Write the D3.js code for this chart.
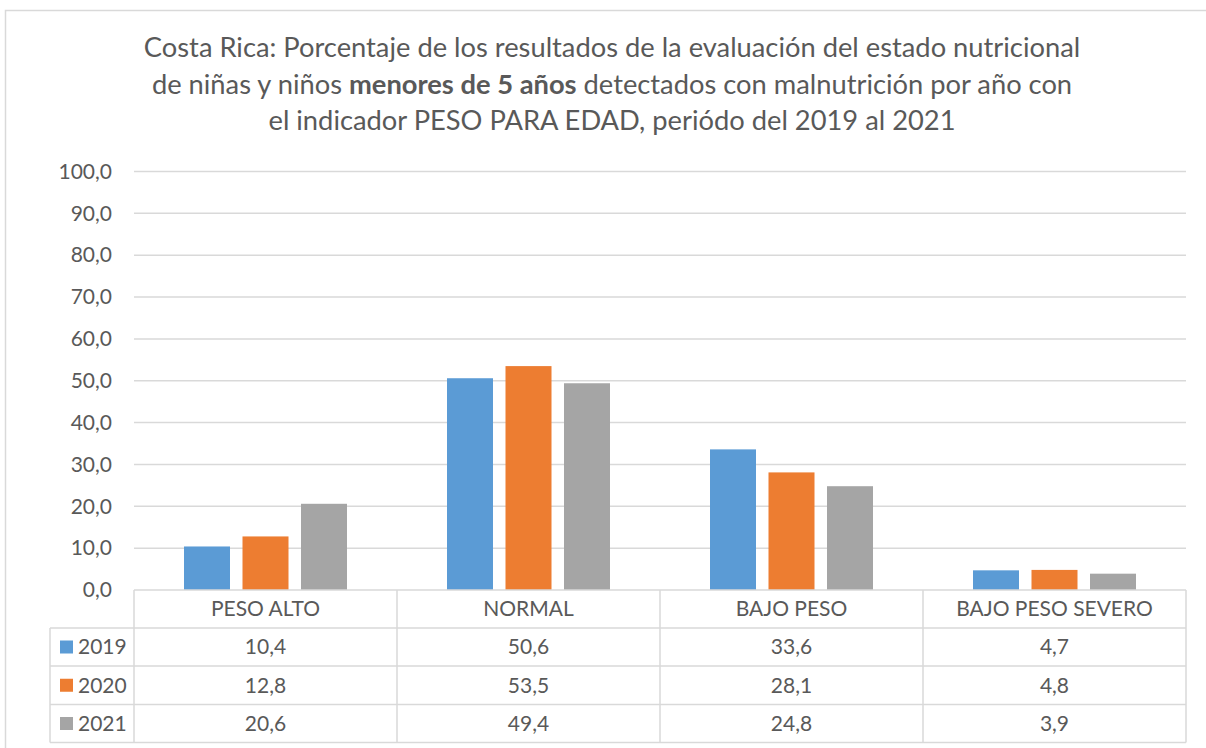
<!DOCTYPE html>
<html>
<head>
<meta charset="utf-8">
<script src="https://cdn.jsdelivr.net/npm/d3@7"></script>
<style>
  html, body { margin: 0; padding: 0; background: #fff; }
  svg { display: block; font-family: Lato, "Open Sans", sans-serif; }
</style>
</head>
<body>
<svg id="chart" width="1206" height="748"></svg>
<script>
const categories = ["PESO ALTO", "NORMAL", "BAJO PESO", "BAJO PESO SEVERO"];
const years = ["2019", "2020", "2021"];
const values2019 = [10.4, 50.6, 33.6, 4.7];
const values2020 = [12.8, 53.5, 28.1, 4.8];
const values2021 = [20.6, 49.4, 24.8, 3.9];
const yTicks = [0, 10, 20, 30, 40, 50, 60, 70, 80, 90, 100];
const colors = ["#5B9BD5", "#ED7D31", "#A5A5A5"];
const titleLines = [
  [{t: "Costa Rica: Porcentaje de los resultados de la evaluación del estado nutricional", b: false}],
  [{t: "de niñas y niños ", b: false}, {t: "menores de 5 años", b: true}, {t: " detectados con malnutrición por año con", b: false}],
  [{t: "el indicador PESO PARA EDAD, periódo del 2019 al 2021", b: false}]
];

(function () {
const series = [values2019, values2020, values2021];
const fmt = v => d3.format(".1f")(v).replace(".", ",");

const svg = d3.select("#chart");
const textColor = "#595959";
const gridColor = "#D9D9D9";

// outer border
svg.append("rect").attr("x", 5.5).attr("y", 10.5).attr("width", 1210).attr("height", 760)
  .attr("fill", "none").attr("stroke", gridColor).attr("stroke-width", 1.5);

const pLeft = 134, pRight = 1186, pTop = 171.5, pBottom = 590;
const x = d3.scaleBand().domain(categories).range([pLeft, pRight]).padding(0);
const xs = d3.scaleBand().domain(years).range([0, x.bandwidth()])
  .paddingInner(0.2137).paddingOuter(0.8547);
const y = d3.scaleLinear().domain([0, 100]).range([pBottom, pTop]);

// title
titleLines.forEach((line, i) => {
  const t = svg.append("text").attr("x", 612).attr("y", 57 + i * 36.5)
    .attr("text-anchor", "middle").attr("fill", textColor).style("font-size", "27.3px");
  line.forEach(seg => {
    t.append("tspan").text(seg.t).attr("font-weight", seg.b ? "bold" : "normal");
  });
});

// gridlines
svg.append("g").selectAll("line").data(yTicks.filter(d => d > 0)).join("line")
  .attr("x1", pLeft).attr("x2", pRight)
  .attr("y1", d => y(d)).attr("y2", d => y(d))
  .attr("stroke", gridColor).attr("stroke-width", 1.5);

// y axis labels
const yAxis = d3.axisLeft(y).tickValues(yTicks).tickFormat(fmt).tickSize(0).tickPadding(22);
const ga = svg.append("g").attr("transform", `translate(${pLeft},0)`).call(yAxis);
ga.select(".domain").remove();
ga.selectAll("text").attr("fill", textColor).style("font-size", "21px")
  .style("font-family", "Lato, 'Open Sans', sans-serif");

// bars
const groups = svg.append("g").selectAll("g").data(categories).join("g")
  .attr("transform", d => `translate(${x(d)},0)`);
groups.selectAll("rect").data((c, ci) => years.map((yr, si) => ({yr, v: series[si][ci], si})))
  .join("rect")
  .attr("x", d => xs(d.yr)).attr("width", xs.bandwidth())
  .attr("y", d => y(d.v)).attr("height", d => y(0) - y(d.v))
  .attr("fill", d => colors[d.si]);

// data table
const rowH = [38, 38, 38.5, 38];
const rowY = [pBottom];
rowH.forEach((h, i) => rowY.push(rowY[i] + h));
const tbl = svg.append("g");
const legLeft = 50;
const stroke = l => l.attr("stroke", gridColor).attr("stroke-width", 1.5);
tbl.append("line").attr("x1", pLeft).attr("x2", pRight).attr("y1", rowY[0]).attr("y2", rowY[0]).call(stroke);
for (let i = 1; i < rowY.length; i++) {
  tbl.append("line").attr("x1", legLeft).attr("x2", pRight).attr("y1", rowY[i]).attr("y2", rowY[i]).call(stroke);
}
const colEdges = categories.map(c => x(c)).concat([pRight]);
colEdges.forEach(cx => {
  tbl.append("line").attr("x1", cx).attr("x2", cx).attr("y1", rowY[0]).attr("y2", rowY[4]).call(stroke);
});
tbl.append("line").attr("x1", legLeft).attr("x2", legLeft).attr("y1", rowY[1]).attr("y2", rowY[4]).call(stroke);

tbl.selectAll("text.hdr").data(categories).join("text").attr("class", "hdr")
  .attr("x", d => x(d) + x.bandwidth() / 2).attr("y", (rowY[0] + rowY[1]) / 2)
  .attr("dy", "0.35em").attr("text-anchor", "middle").attr("fill", textColor)
  .style("font-size", "21px").text(d => d);

years.forEach((yr, si) => {
  const cy = (rowY[si + 1] + rowY[si + 2]) / 2;
  tbl.append("rect").attr("x", 60).attr("y", cy - 6.5).attr("width", 13).attr("height", 13)
    .attr("fill", colors[si]);
  tbl.append("text").attr("x", 78).attr("y", cy).attr("dy", "0.35em")
    .attr("fill", textColor).style("font-size", "21px").text(yr);
  tbl.append("g").selectAll("text").data(categories).join("text")
    .attr("x", d => x(d) + x.bandwidth() / 2).attr("y", cy).attr("dy", "0.35em")
    .attr("text-anchor", "middle").attr("fill", textColor).style("font-size", "21px")
    .text((d, ci) => fmt(series[si][ci]));
});
})();
</script>
</body>
</html>
